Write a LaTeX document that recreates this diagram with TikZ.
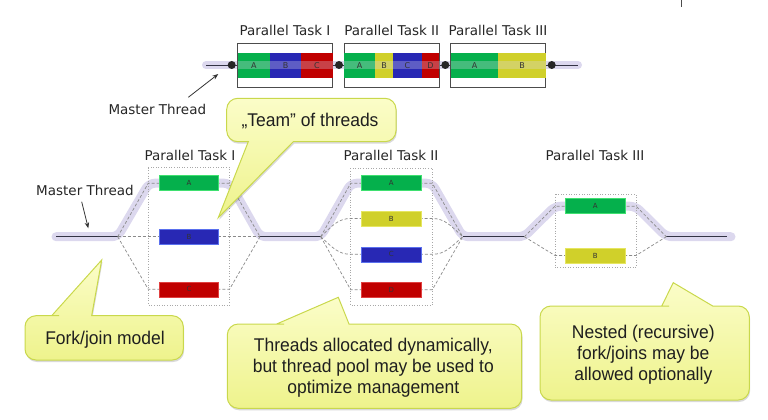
\documentclass[tikz,border=0pt]{standalone}
\usepackage{fontspec}
\newfontfamily\dvfont{DejaVu Sans}
\newfontfamily\lsfont[FakeStretch=0.95]{Liberation Sans}
\usetikzlibrary{shadows,arrows.meta}
\definecolor{glowc}{HTML}{DCD8EE}
\definecolor{threadc}{HTML}{333344}
\definecolor{dashc}{HTML}{8A8A8A}
\definecolor{grpc}{HTML}{A8A8A8}
\definecolor{gA}{HTML}{05B04C}
\definecolor{gAb}{HTML}{3FE070}
\definecolor{gB}{HTML}{2828B4}
\definecolor{gBb}{HTML}{5A70EE}
\definecolor{gC}{HTML}{C00000}
\definecolor{gCb}{HTML}{E04040}
\definecolor{gY}{HTML}{D0D02A}
\definecolor{gYb}{HTML}{E6E660}
\definecolor{cTop}{HTML}{FBFDC8}
\definecolor{cBot}{HTML}{EEF38C}
\definecolor{cBord}{HTML}{C9D84C}
\begin{document}
\begin{tikzpicture}[x=1pt,y=-1pt,
  glowline/.style={draw=glowc, line width=9pt, line cap=round, line join=round, rounded corners=6pt},
  glowover/.style={draw=glowc, line width=8pt, opacity=0.3},
  thread/.style={draw=threadc, line width=0.9pt},
  dashl/.style={draw=dashc, line width=0.7pt, dash pattern=on 3pt off 2pt},
  dotn/.style={circle, fill=black!85, inner sep=0pt, minimum size=5pt},
  bigdot/.style={circle, fill=black!85, inner sep=0pt, minimum size=8pt},
  tbox/.style={draw, line width=0.6pt, minimum width=59.5pt, minimum height=15pt, inner sep=0pt,
    font=\dvfont\fontsize{7}{8}\selectfont, text=black!80},
  tband/.style={minimum height=25pt, inner sep=0pt},
  bandtxt/.style={inner sep=0pt, font=\dvfont\fontsize{8}{9}\selectfont, text=black!80},
  outerbox/.style={draw=black!70, line width=0.8pt, minimum width=95pt, minimum height=44pt, inner sep=0pt},
  grp/.style={draw=grpc, dotted, line width=0.6pt},
  lbl/.style={font=\dvfont\fontsize{13.5}{16}\selectfont, text=black!85},
  arr/.style={draw=black!80, line width=0.8pt, -{Stealth[length=6pt,width=4.5pt]}},
  callout/.style={draw=cBord, line width=1pt, top color=cTop, bottom color=cBot,
    drop shadow={opacity=0.25, shadow xshift=0.8pt, shadow yshift=-2pt, fill=black!60}},
  ctext/.style={font=\lsfont\fontsize{18.4}{21}\selectfont, align=center, text=black!88}
]
\useasboundingbox (0,0) rectangle (768,420);

% small tick at top right
\draw[draw=black!70, line width=1.2pt] (681.7,0) -- (681.7,7);

%%%%%%%%%%%%%%%% top strip
\coordinate (ts) at (206,65);
\coordinate (te) at (578,65);
\draw[draw=glowc, line width=8pt, line cap=round] (ts) -- (te);
\draw[thread] (ts) -- (te);

\node[outerbox] (sb1) at (285.2,65.3) {};
\node[outerbox] (sb2) at (391.8,65.3) {};
\node[outerbox] (sb3) at (498.3,65.3) {};

\node[tband, fill=gA, minimum width=32.3pt] (s1a) at (253.85,65.2) {};
\node[tband, fill=gB, minimum width=31pt]   (s1b) at (285.5,65.2) {};
\node[tband, fill=gC, minimum width=31.7pt] (s1c) at (316.85,65.2) {};
\node[tband, fill=gA, minimum width=30.7pt] (s2a) at (359.65,65.2) {};
\node[tband, fill=gY, minimum width=18pt]   (s2b) at (384,65.2) {};
\node[tband, fill=gB, minimum width=28.7pt] (s2c) at (407.35,65.2) {};
\node[tband, fill=gC, minimum width=17.6pt] (s2d) at (430.5,65.2) {};
\node[tband, fill=gA, minimum width=47.6pt] (s3a) at (474.5,65.2) {};
\node[tband, fill=gY, minimum width=47.7pt] (s3b) at (522.15,65.2) {};

\draw[glowover] (s1a.west) -- (s1c.east);
\draw[glowover] (s2a.west) -- (s2d.east);
\draw[glowover] (s3a.west) -- (s3b.east);

\node[bandtxt] (s1at) at (s1a) {A};
\node[bandtxt] (s1bt) at (s1b) {B};
\node[bandtxt] (s1ct) at (s1c) {C};
\node[bandtxt] (s2at) at (s2a) {A};
\node[bandtxt] (s2bt) at (s2b) {B};
\node[bandtxt] (s2ct) at (s2c) {C};
\node[bandtxt] (s2dt) at (s2d) {D};
\node[bandtxt] (s3at) at (s3a) {A};
\node[bandtxt] (s3bt) at (s3b) {B};

\node[bigdot] (td1) at (231.7,65) {};
\node[bigdot] (td2) at (339,65) {};
\node[bigdot] (td3) at (445.3,65) {};
\node[bigdot] (td4) at (551.7,65) {};

\node[lbl] (sl1) at (285,30) {Parallel Task I};
\node[lbl] (sl2) at (391.7,30) {Parallel Task II};
\node[lbl] (sl3) at (498,30) {Parallel Task III};

\node[lbl] (mt1) at (157.3,109.3) {Master Thread};
\coordinate (mt1s) at (188.3,97.3);
\coordinate (mt1e) at (218.3,74);
\draw[arr] (mt1s) -- (mt1e);

%%%%%%%%%%%%%%%% main diagram
\coordinate (g0) at (56,236.7);
\coordinate (g9) at (727,236.7);
\coordinate (g9g) at (731,236.7);

\node[dotn] (f1) at (117.7,236.7) {};
\node[dotn] (j1) at (260,236.7) {};
\node[dotn] (f2) at (320.7,236.7) {};
\node[dotn] (j2) at (462.7,236.7) {};
\node[dotn] (f3) at (524.3,236.7) {};
\node[dotn] (j3) at (666.3,236.7) {};

% glow path
\draw[glowline] (g0) -- (f1.center) -- (149,183.2) -- (230,183.2) -- (j1.center) -- (f2.center)
  -- (351,183.2) -- (432,183.2) -- (j2.center) -- (f3.center) -- (555,206.2) -- (635.5,206.2)
  -- (j3.center) -- (g9g);

% master thread segments
\draw[thread] (g0) -- (f1.center);
\draw[thread] (j1.center) -- (f2.center);
\draw[thread] (j2.center) -- (f3.center);
\draw[thread] (j3.center) -- (g9);

% group boxes
\draw[grp] (148.3,167.7) rectangle (229.5,305);
\draw[grp] (350.7,168.3) rectangle (432.3,305);
\draw[grp] (555,194.3) rectangle (636,267.3);

% Task I
\draw[dashl] (f1.center) -- (148.3,183.2) -- (229.5,183.2) -- (j1.center);
\draw[dashl] (f1.center) -- (j1.center);
\draw[dashl] (f1.center) -- (148.3,289.3) -- (229.5,289.3) -- (j1.center);
% Task II
\draw[dashl] (f2.center) -- (350.7,183.2) -- (432.3,183.2) -- (j2.center);
\draw[dashl] (f2.center) .. controls (332,226) and (338,218.5) .. (350.7,218.5) -- (432.3,218.5)
  .. controls (445,218.5) and (451,226) .. (j2.center);
\draw[dashl] (f2.center) .. controls (332,247) and (338,254.3) .. (350.7,254.3) -- (432.3,254.3)
  .. controls (445,254.3) and (451,247) .. (j2.center);
\draw[dashl] (f2.center) -- (350.7,289.8) -- (432.3,289.8) -- (j2.center);
% Task III
\draw[dashl] (f3.center) -- (555,206.2) -- (636,206.2) -- (j3.center);
\draw[dashl] (f3.center) -- (555,255.5) -- (636,255.5) -- (j3.center);

% thread boxes
\node[tbox, fill=gA, draw=gAb] (t1a) at (189,182.9) {A};
\node[tbox, fill=gB, draw=gBb] (t1b) at (189,236.5) {B};
\node[tbox, fill=gC, draw=gCb] (t1c) at (189,289.3) {C};
\node[tbox, fill=gA, draw=gAb] (t2a) at (391.3,183.2) {A};
\node[tbox, fill=gY, draw=gYb] (t2b) at (391.3,218.5) {B};
\node[tbox, fill=gB, draw=gBb] (t2c) at (391.3,254.3) {C};
\node[tbox, fill=gC, draw=gCb] (t2d) at (391.3,289.8) {D};
\node[tbox, fill=gA, draw=gAb] (t3a) at (595.3,206.2) {A};
\node[tbox, fill=gY, draw=gYb] (t3b) at (595.3,255.5) {B};

% labels
\node[lbl] (ml1) at (190,155) {Parallel Task I};
\node[lbl] (ml2) at (391,155) {Parallel Task II};
\node[lbl] (ml3) at (595,155) {Parallel Task III};
\node[lbl] (mt2) at (85,190.7) {Master Thread};
\coordinate (mt2s) at (81.7,201.7);
\coordinate (mt2e) at (88.3,228.3);
\draw[arr] (mt2s) -- (mt2e);

%%%%%%%%%%%%%%%% callouts
\path[callout] (293.3,141.7) -- (218.3,217.7) -- (248.3,141.7) -- (246,141.7) [rounded corners=11pt]
  -- (226.7,141.7) -- (226.7,98.3) -- (396,98.3) -- (396,141.7) -- (340,141.7) [sharp corners] -- cycle;
\node[ctext] (c1) at (310,120.7) {„Team” of threads};

\path[callout] (51.7,315.7) -- (101.7,260) -- (91.7,315.7) -- (95,315.7) [rounded corners=11pt]
  -- (183.3,315.7) -- (183.3,360) -- (25,360) -- (25,315.7) -- (48,315.7) [sharp corners] -- cycle;
\node[ctext] (c2) at (105,339.3) {Fork/join model};

\path[callout] (276.7,324) -- (338.3,297.3) -- (349,324) -- (352,324) [rounded corners=11pt]
  -- (521.7,324) -- (521.7,408.3) -- (227.3,408.3) -- (227.3,324) -- (273,324) [sharp corners] -- cycle;
\node[ctext] (c3) at (373.3,367.7) {Threads allocated dynamically,\\but thread pool may be used to\\optimize management};

\path[callout] (661.7,306) -- (673.3,282.7) -- (712.7,306) -- (716,306) [rounded corners=11pt]
  -- (749.3,306) -- (749.3,400) -- (540,400) -- (540,306) -- (658,306) [sharp corners] -- cycle;
\node[ctext] (c4) at (643.3,354.5) {Nested (recursive)\\fork/joins may be\\allowed optionally};

\end{tikzpicture}
\end{document}
